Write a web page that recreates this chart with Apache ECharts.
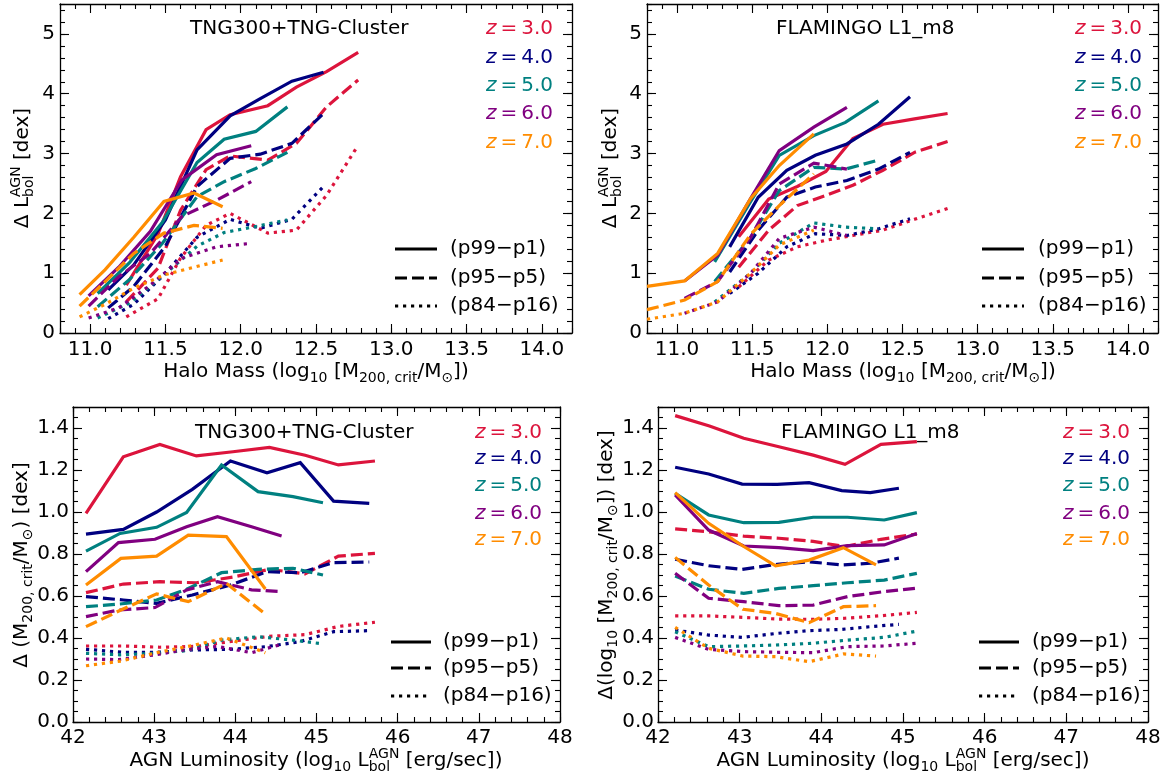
<!DOCTYPE html>
<html>
<head>
<meta charset="utf-8">
<script src="https://cdn.jsdelivr.net/npm/echarts@6/dist/echarts.min.js"></script>
<style>
html, body { margin: 0; padding: 0; background: #fff; }
#chart { width: 1166px; height: 781px; }
</style>
</head>
<body>
<div id="chart"></div>
<script>
// tick labels
var massTicks = [11.0, 11.5, 12.0, 12.5, 13.0, 13.5, 14.0];
var lumTicks = [42, 43, 44, 45, 46, 47, 48];
var dexTicks = [0, 1, 2, 3, 4, 5];
var spreadTicks = [0, 0.2, 0.4, 0.6, 0.8, 1.0, 1.2, 1.4];

var redshifts = ['3.0', '4.0', '5.0', '6.0', '7.0'];
var pctNames = ['(p99\u2212p1)', '(p95\u2212p5)', '(p84\u2212p16)'];

// top left: TNG300+TNG-Cluster, spread of L_bol vs halo mass
var tngM_x3 = [11.24, 11.45, 11.60, 11.77, 11.93, 12.18, 12.37, 12.57, 12.78];
var tngM_p99_3 = [0.80, 1.65, 2.61, 3.40, 3.65, 3.80, 4.11, 4.37, 4.69];
var tngM_p95_3 = [0.52, 1.08, 2.05, 2.73, 2.96, 2.89, 3.17, 3.78, 4.23];
var tngM_p84_3 = [0.27, 0.57, 1.25, 1.80, 2.00, 1.67, 1.72, 2.30, 3.14];
var tngM_x4 = [11.12, 11.29, 11.50, 11.71, 11.93, 12.13, 12.34, 12.55];
var tngM_p99_4 = [0.72, 1.14, 1.89, 3.06, 3.63, 3.92, 4.21, 4.36];
var tngM_p95_4 = [0.42, 0.78, 1.45, 2.45, 2.92, 2.99, 3.17, 3.67];
var tngM_p84_4 = [0.24, 0.48, 1.00, 1.60, 1.90, 1.75, 1.90, 2.45];
var tngM_x5 = [11.05, 11.26, 11.48, 11.71, 11.89, 12.10, 12.31];
var tngM_p99_5 = [0.66, 1.17, 1.85, 2.85, 3.24, 3.37, 3.78];
var tngM_p95_5 = [0.44, 0.89, 1.50, 2.28, 2.53, 2.75, 3.02];
var tngM_p84_5 = [0.25, 0.50, 0.95, 1.45, 1.68, 1.78, 1.89];
var tngM_x6 = [10.99, 11.19, 11.40, 11.61, 11.84, 12.07];
var tngM_p99_6 = [0.62, 1.10, 1.70, 2.56, 2.98, 3.13];
var tngM_p95_6 = [0.45, 0.94, 1.33, 1.95, 2.22, 2.53];
var tngM_p84_6 = [0.25, 0.42, 0.80, 1.25, 1.44, 1.50];
var tngM_x7 = [10.93, 11.10, 11.29, 11.49, 11.69, 11.88];
var tngM_p99_7 = [0.64, 1.06, 1.60, 2.20, 2.34, 2.11];
var tngM_p95_7 = [0.45, 0.86, 1.33, 1.67, 1.80, 1.75];
var tngM_p84_7 = [0.27, 0.48, 0.75, 0.97, 1.10, 1.22];

// top right: FLAMINGO L1_m8, spread of L_bol vs halo mass
var flmM_x3 = [11.41, 11.61, 11.80, 11.99, 12.17, 12.37, 12.58, 12.80];
var flmM_p99_3 = [1.61, 2.24, 2.45, 2.70, 3.25, 3.49, 3.58, 3.67];
var flmM_p95_3 = [1.10, 1.72, 2.13, 2.30, 2.47, 2.72, 3.02, 3.20];
var flmM_p84_3 = [0.77, 1.22, 1.44, 1.55, 1.63, 1.72, 1.90, 2.08];
var flmM_x4 = [11.35, 11.54, 11.73, 11.92, 12.13, 12.34, 12.55];
var flmM_p99_4 = [1.44, 2.27, 2.72, 2.97, 3.16, 3.49, 3.95];
var flmM_p95_4 = [1.02, 1.72, 2.27, 2.44, 2.55, 2.74, 3.02];
var flmM_p84_4 = [0.66, 1.00, 1.44, 1.66, 1.63, 1.74, 1.91];
var flmM_x5 = [11.25, 11.49, 11.68, 11.91, 12.12, 12.34];
var flmM_p99_5 = [1.19, 2.20, 2.97, 3.30, 3.52, 3.88];
var flmM_p95_5 = [0.86, 1.60, 2.38, 2.77, 2.74, 2.89];
var flmM_p84_5 = [0.52, 1.00, 1.50, 1.84, 1.77, 1.74];
var flmM_x6 = [11.05, 11.27, 11.49, 11.68, 11.91, 12.13];
var flmM_p99_6 = [0.87, 1.30, 2.25, 3.05, 3.44, 3.77];
var flmM_p95_6 = [0.58, 0.86, 1.60, 2.49, 2.84, 2.74];
var flmM_p84_6 = [0.33, 0.52, 1.00, 1.58, 1.77, 1.63];
var flmM_x7 = [10.80, 11.05, 11.27, 11.49, 11.68, 11.91];
var flmM_p99_7 = [0.78, 0.87, 1.33, 2.25, 2.80, 3.33];
var flmM_p95_7 = [0.39, 0.55, 0.86, 1.65, 2.13, 2.66];
var flmM_p84_7 = [0.23, 0.33, 0.52, 1.00, 1.47, 1.72];

// bottom left: TNG300+TNG-Cluster, spread of halo mass vs L_bol
var tngL_x3 = [42.16, 42.62, 43.07, 43.52, 43.97, 44.42, 44.86, 45.27, 45.72];
var tngL_p99_3 = [0.994, 1.263, 1.322, 1.267, 1.287, 1.308, 1.27, 1.224, 1.243];
var tngL_p95_3 = [0.616, 0.657, 0.668, 0.663, 0.69, 0.727, 0.705, 0.79, 0.803];
var tngL_p84_3 = [0.362, 0.362, 0.356, 0.36, 0.385, 0.408, 0.416, 0.455, 0.475];
var tngL_x4 = [42.16, 42.62, 43.03, 43.47, 43.94, 44.39, 44.80, 45.21, 45.65];
var tngL_p99_4 = [0.895, 0.917, 1.0, 1.108, 1.243, 1.187, 1.235, 1.052, 1.041];
var tngL_p95_4 = [0.597, 0.581, 0.565, 0.605, 0.652, 0.716, 0.711, 0.759, 0.762];
var tngL_p84_4 = [0.346, 0.332, 0.332, 0.343, 0.346, 0.359, 0.383, 0.43, 0.435];
var tngL_x5 = [42.16, 42.58, 43.03, 43.40, 43.83, 44.28, 44.71, 45.08];
var tngL_p99_5 = [0.814, 0.898, 0.927, 0.998, 1.224, 1.097, 1.073, 1.044];
var tngL_p95_5 = [0.549, 0.562, 0.581, 0.632, 0.711, 0.727, 0.732, 0.70];
var tngL_p84_5 = [0.327, 0.32, 0.327, 0.34, 0.39, 0.406, 0.39, 0.372];
var tngL_x6 = [42.16, 42.56, 43.01, 43.40, 43.78, 44.20, 44.57];
var tngL_p99_6 = [0.716, 0.854, 0.87, 0.93, 0.978, 0.93, 0.886];
var tngL_p95_6 = [0.502, 0.533, 0.545, 0.629, 0.668, 0.629, 0.621];
var tngL_p84_6 = [0.30, 0.297, 0.32, 0.345, 0.36, 0.33, 0.37];
var tngL_x7 = [42.16, 42.59, 43.03, 43.42, 43.89, 44.37];
var tngL_p99_7 = [0.652, 0.779, 0.79, 0.89, 0.883, 0.633];
var tngL_p95_7 = [0.454, 0.533, 0.61, 0.573, 0.66, 0.514];
var tngL_p84_7 = [0.268, 0.29, 0.33, 0.36, 0.40, 0.33];

// bottom right: FLAMINGO L1_m8, spread of halo mass vs L_bol
var flmL_x3 = [42.21, 42.63, 43.05, 43.48, 43.90, 44.29, 44.73, 45.17];
var flmL_p99_3 = [1.459, 1.41, 1.351, 1.311, 1.271, 1.227, 1.322, 1.335];
var flmL_p95_3 = [0.92, 0.905, 0.885, 0.875, 0.86, 0.835, 0.87, 0.895];
var flmL_p84_3 = [0.505, 0.505, 0.498, 0.49, 0.489, 0.494, 0.506, 0.522];
var flmL_x4 = [42.21, 42.62, 43.03, 43.46, 43.85, 44.25, 44.60, 44.95];
var flmL_p99_4 = [1.213, 1.181, 1.133, 1.132, 1.14, 1.102, 1.092, 1.113];
var flmL_p95_4 = [0.775, 0.744, 0.727, 0.751, 0.763, 0.748, 0.756, 0.78];
var flmL_p84_4 = [0.438, 0.414, 0.403, 0.422, 0.435, 0.441, 0.454, 0.465];
var flmL_x5 = [42.21, 42.62, 43.05, 43.48, 43.90, 44.32, 44.77, 45.17];
var flmL_p99_5 = [1.089, 0.986, 0.949, 0.951, 0.975, 0.975, 0.962, 0.997];
var flmL_p95_5 = [0.695, 0.632, 0.613, 0.636, 0.649, 0.663, 0.676, 0.708];
var flmL_p84_5 = [0.43, 0.359, 0.362, 0.367, 0.375, 0.39, 0.403, 0.433];
var flmL_x6 = [42.21, 42.62, 43.05, 43.48, 43.90, 44.32, 44.77, 45.17];
var flmL_p99_6 = [1.081, 0.914, 0.838, 0.83, 0.816, 0.84, 0.843, 0.898];
var flmL_p95_6 = [0.708, 0.589, 0.573, 0.554, 0.557, 0.597, 0.621, 0.637];
var flmL_p84_6 = [0.403, 0.346, 0.335, 0.332, 0.33, 0.359, 0.362, 0.375];
var flmL_x7 = [42.21, 42.62, 43.04, 43.44, 43.85, 44.27, 44.67];
var flmL_p99_7 = [1.092, 0.946, 0.838, 0.744, 0.771, 0.83, 0.748];
var flmL_p95_7 = [0.784, 0.652, 0.537, 0.517, 0.473, 0.549, 0.554];
var flmL_p84_7 = [0.451, 0.351, 0.314, 0.311, 0.287, 0.324, 0.314];

var FAMILY = '"DejaVu Sans", sans-serif';
var COLORS = ['#dc143c', '#000080', '#008080', '#800080', '#ff8c00'];
var STYLES = ['solid', [12, 5], [3.2, 4.8]];
var LW = 3.2;

var panels = [
  { rect: { left: 60, top: 4, width: 512, height: 329 }, xr: [10.8, 14.2], xMajor: massTicks, xMinor: 0.1, xDec: 1,
    yr: [0, 5.5], yMajor: dexTicks, yMinor: 0.2, yDec: 0, labelMargin: 5,
    title: 'TNG300+TNG-Cluster', titleX: 190, titleY: 29, zRight: 553, zY: [29, 58, 86, 114, 143],
    legX: [395, 437], legText: 450, legY: [249, 278, 306] },
  { rect: { left: 647, top: 4, width: 511, height: 329 }, xr: [10.8, 14.2], xMajor: massTicks, xMinor: 0.1, xDec: 1,
    yr: [0, 5.5], yMajor: dexTicks, yMinor: 0.2, yDec: 0, labelMargin: 5,
    title: 'FLAMINGO L1_m8', titleX: 776, titleY: 29, zRight: 1142, zY: [29, 58, 86, 114, 143],
    legX: [982, 1024], legText: 1038, legY: [249, 278, 306] },
  { rect: { left: 73, top: 407, width: 487, height: 315 }, xr: [42, 48], xMajor: lumTicks, xMinor: 0.2, xDec: 0,
    yr: [0, 1.5], yMajor: spreadTicks, yMinor: 0.05, yDec: 1, labelMargin: 4,
    title: 'TNG300+TNG-Cluster', titleX: 195, titleY: 433, zRight: 542, zY: [433, 459, 486, 514, 540],
    legX: [391, 431], legText: 443, legY: [642, 668, 696] },
  { rect: { left: 658, top: 407, width: 490, height: 315 }, xr: [42, 48], xMajor: lumTicks, xMinor: 0.2, xDec: 0,
    yr: [0, 1.5], yMajor: spreadTicks, yMinor: 0.05, yDec: 1, labelMargin: 4,
    title: 'FLAMINGO L1_m8', titleX: 781, titleY: 433, zRight: 1130, zY: [433, 459, 486, 514, 540],
    legX: [979, 1019], legText: 1032, legY: [642, 668, 696] }
];

var grids = [], xAxes = [], yAxes = [], series = [], graphics = [];

function axisDef(gridIndex, pos, range, o) {
  var a = {
    type: 'value', gridIndex: gridIndex, position: pos, min: range[0], max: range[1],
    axisLine: { show: !!o.line, onZero: false, lineStyle: { color: '#000', width: 1.3 } },
    axisTick: { show: true, inside: true, length: o.len, lineStyle: { color: '#000', width: 1.1 } },
    axisLabel: { show: false },
    splitLine: { show: false }
  };
  if (o.interval) a.interval = o.interval;
  if (o.ticks) a.axisTick.customValues = o.ticks;
  if (o.labels) {
    a.axisLabel = {
      show: true, customValues: o.ticks, color: '#000', fontSize: 20, fontFamily: FAMILY,
      margin: o.margin, formatter: function (v) { return Number(v).toFixed(o.dec); }
    };
  }
  return a;
}

panels.forEach(function (p, i) {
  grids.push(Object.assign({}, p.rect));
  grids.push(Object.assign({}, p.rect));
  var gMaj = 2 * i, gMin = 2 * i + 1;
  xAxes.push(axisDef(gMaj, 'bottom', p.xr, { line: true, len: 9, ticks: p.xMajor, labels: true, dec: p.xDec, margin: p.labelMargin + 2 }));
  xAxes.push(axisDef(gMaj, 'top', p.xr, { line: true, len: 9, ticks: p.xMajor }));
  xAxes.push(axisDef(gMin, 'bottom', p.xr, { len: 5, interval: p.xMinor }));
  xAxes.push(axisDef(gMin, 'top', p.xr, { len: 5, interval: p.xMinor }));
  yAxes.push(axisDef(gMaj, 'left', p.yr, { line: true, len: 9, ticks: p.yMajor, labels: true, dec: p.yDec, margin: p.labelMargin }));
  yAxes.push(axisDef(gMaj, 'right', p.yr, { line: true, len: 9, ticks: p.yMajor }));
  yAxes.push(axisDef(gMin, 'left', p.yr, { len: 5, interval: p.yMinor }));
  yAxes.push(axisDef(gMin, 'right', p.yr, { len: 5, interval: p.yMinor }));
});

function addLines(panel, zi, xs, p99, p95, p84) {
  [p99, p95, p84].forEach(function (ys, k) {
    series.push({
      type: 'line', xAxisIndex: 4 * panel, yAxisIndex: 4 * panel,
      data: xs.map(function (x, j) { return [x, ys[j]]; }),
      showSymbol: false, symbol: 'none', silent: true,
      lineStyle: { color: COLORS[zi], width: LW, type: STYLES[k], cap: 'butt', join: 'miter' },
      emphasis: { disabled: true }
    });
  });
}

addLines(0, 0, tngM_x3, tngM_p99_3, tngM_p95_3, tngM_p84_3);
addLines(0, 1, tngM_x4, tngM_p99_4, tngM_p95_4, tngM_p84_4);
addLines(0, 2, tngM_x5, tngM_p99_5, tngM_p95_5, tngM_p84_5);
addLines(0, 3, tngM_x6, tngM_p99_6, tngM_p95_6, tngM_p84_6);
addLines(0, 4, tngM_x7, tngM_p99_7, tngM_p95_7, tngM_p84_7);
addLines(1, 0, flmM_x3, flmM_p99_3, flmM_p95_3, flmM_p84_3);
addLines(1, 1, flmM_x4, flmM_p99_4, flmM_p95_4, flmM_p84_4);
addLines(1, 2, flmM_x5, flmM_p99_5, flmM_p95_5, flmM_p84_5);
addLines(1, 3, flmM_x6, flmM_p99_6, flmM_p95_6, flmM_p84_6);
addLines(1, 4, flmM_x7, flmM_p99_7, flmM_p95_7, flmM_p84_7);
addLines(2, 0, tngL_x3, tngL_p99_3, tngL_p95_3, tngL_p84_3);
addLines(2, 1, tngL_x4, tngL_p99_4, tngL_p95_4, tngL_p84_4);
addLines(2, 2, tngL_x5, tngL_p99_5, tngL_p95_5, tngL_p84_5);
addLines(2, 3, tngL_x6, tngL_p99_6, tngL_p95_6, tngL_p84_6);
addLines(2, 4, tngL_x7, tngL_p99_7, tngL_p95_7, tngL_p84_7);
addLines(3, 0, flmL_x3, flmL_p99_3, flmL_p95_3, flmL_p84_3);
addLines(3, 1, flmL_x4, flmL_p99_4, flmL_p95_4, flmL_p84_4);
addLines(3, 2, flmL_x5, flmL_p99_5, flmL_p95_5, flmL_p84_5);
addLines(3, 3, flmL_x6, flmL_p99_6, flmL_p95_6, flmL_p84_6);
addLines(3, 4, flmL_x7, flmL_p99_7, flmL_p95_7, flmL_p84_7);

// text helpers
var ctx = document.createElement('canvas').getContext('2d');
function fontOf(size) { return size + 'px ' + FAMILY; }
function measure(t, size) { ctx.font = fontOf(size); return ctx.measureText(t).width; }

function plainText(t, x, y, align, color) {
  return { type: 'text', x: x, y: y, silent: true,
    style: { text: t, font: fontOf(20), fill: color || '#000', textAlign: align, textVerticalAlign: 'middle' } };
}

// a label made of main, subscript and stacked super/subscript pieces
var SUB = 6, SUP = -7, SMALL = 14;
function composite(parts, cx, cy, rotated) {
  var items = [], x = 0;
  parts.forEach(function (p) {
    var segs = p.stack || [p];
    var w = 0;
    segs.forEach(function (s) {
      var size = s.small ? SMALL : 20;
      items.push({ t: s.t, size: size, x: x, dy: s.dy || 0 });
      w = Math.max(w, measure(s.t, size));
    });
    x += w;
  });
  var half = x / 2;
  return {
    type: 'group', x: cx, y: cy, rotation: rotated ? Math.PI / 2 : 0, silent: true,
    children: items.map(function (it) {
      return { type: 'text', x: it.x - half, y: it.dy,
        style: { text: it.t, font: fontOf(it.size), fill: '#000', textAlign: 'left', textVerticalAlign: 'middle' } };
    })
  };
}

var sunSub = { t: '\u2299', small: true, dy: SUB };
var massTitle = [{ t: 'Halo Mass (log' }, { t: '10', small: true, dy: SUB }, { t: ' [M' },
  { t: '200, crit', small: true, dy: SUB }, { t: '/M' }, sunSub, { t: '])' }];
var lbolTitle = [{ t: '\u0394 L' }, { stack: [{ t: 'AGN', small: true, dy: SUP }, { t: 'bol', small: true, dy: SUB }] }, { t: ' [dex]' }];
var lumTitle = [{ t: 'AGN Luminosity (log' }, { t: '10', small: true, dy: SUB }, { t: ' L' },
  { stack: [{ t: 'AGN', small: true, dy: SUP }, { t: 'bol', small: true, dy: SUB }] }, { t: ' [erg/sec])' }];
var tngSpreadTitle = [{ t: '\u0394 (M' }, { t: '200, crit', small: true, dy: SUB }, { t: '/M' }, sunSub, { t: ') [dex]' }];
var flmSpreadTitle = [{ t: '\u0394(log' }, { t: '10', small: true, dy: SUB }, { t: ' [M' },
  { t: '200, crit', small: true, dy: SUB }, { t: '/M' }, sunSub, { t: ']) [dex]' }];

graphics.push(composite(massTitle, 316, 372, false));
graphics.push(composite(massTitle, 903, 372, false));
graphics.push(composite(lumTitle, 316, 761, false));
graphics.push(composite(lumTitle, 903, 761, false));
graphics.push(composite(lbolTitle, 23, 168, true));
graphics.push(composite(lbolTitle, 611, 168, true));
graphics.push(composite(tngSpreadTitle, 22, 565, true));
graphics.push(composite(flmSpreadTitle, 607, 565, true));

panels.forEach(function (p) {
  graphics.push(plainText(p.title, p.titleX, p.titleY, 'left'));
  redshifts.forEach(function (z, k) {
    graphics.push({ type: 'text', x: p.zRight, y: p.zY[k], silent: true,
      style: { text: '{i|z}\u2009=\u2009' + z, font: fontOf(20), fill: COLORS[k], textAlign: 'right', textVerticalAlign: 'middle',
        rich: { i: { fontStyle: 'italic', fontFamily: FAMILY, fontSize: 20, fill: COLORS[k] } } } });
  });
  pctNames.forEach(function (name, k) {
    var dash = STYLES[k] === 'solid' ? null : STYLES[k];
    graphics.push({ type: 'line', silent: true,
      shape: { x1: p.legX[0], y1: p.legY[k], x2: p.legX[1], y2: p.legY[k] },
      style: { stroke: '#000', lineWidth: LW, lineDash: dash, lineCap: 'butt' } });
    graphics.push(plainText(name, p.legText, p.legY[k], 'left'));
  });
});

var chart = echarts.init(document.getElementById('chart'));
chart.setOption({
  animation: false,
  backgroundColor: '#fff',
  grid: grids,
  xAxis: xAxes,
  yAxis: yAxes,
  series: series,
  graphic: { elements: graphics }
});
</script>
</body>
</html>
